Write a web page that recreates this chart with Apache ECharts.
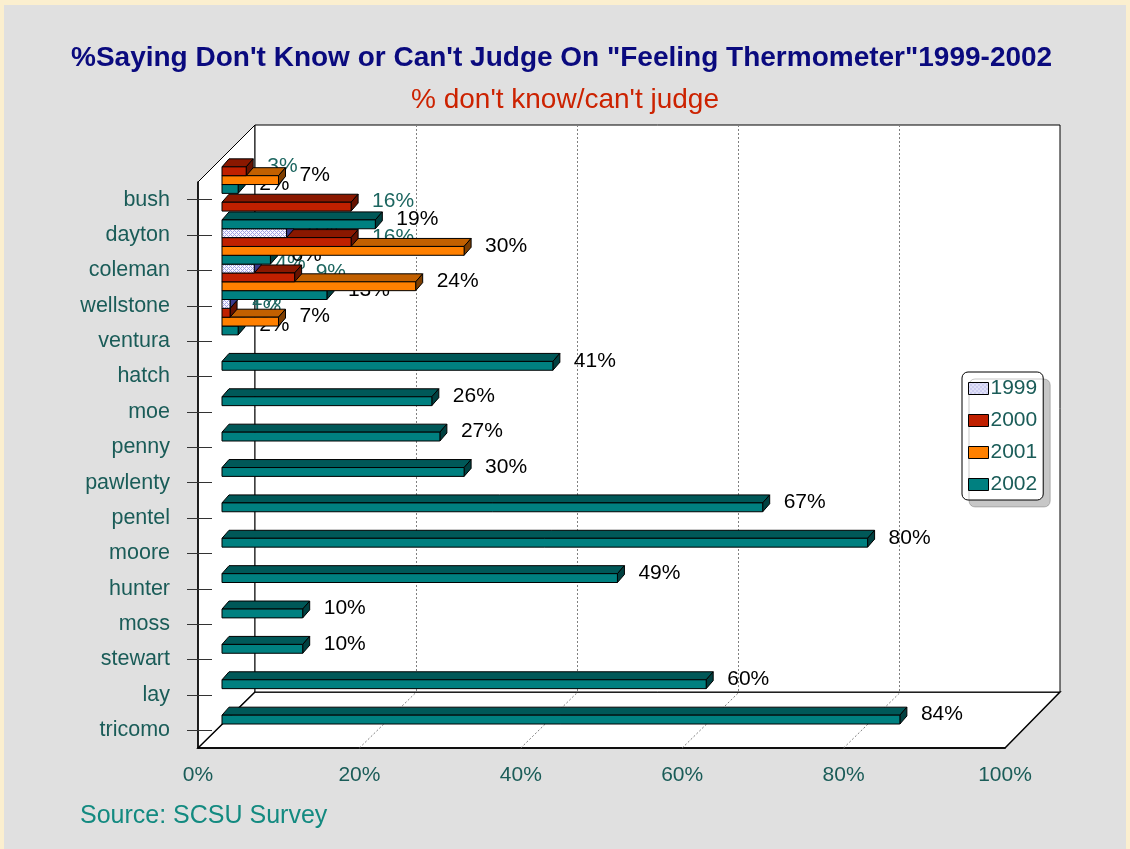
<!DOCTYPE html>
<html><head><meta charset="utf-8">
<script src="https://cdn.jsdelivr.net/npm/echarts@6/dist/echarts.min.js"></script>
<style>
html,body{margin:0;padding:0;background:#fbefcf;}
#c{width:1130px;height:849px;background:#e0e0e0;box-shadow:inset 4px 5px 0 #fbefcf, inset -4px 0 0 #fbefcf;}
</style>
</head><body><div id="c"></div>
<script>
// ---- data ----
const categories = ['bush','dayton','coleman','wellstone','ventura','hatch','moe','penny','pawlenty','pentel','moore','hunter','moss','stewart','lay','tricomo'];
const seriesNames = ['1999','2000','2001','2002'];
const v1999 = [null, null, 8, 4, 1, null, null, null, null, null, null, null, null, null, null, null];
const v2000 = [3, 16, 16, 9, 1, null, null, null, null, null, null, null, null, null, null, null];
const v2001 = [7, null, 30, 24, 7, null, null, null, null, null, null, null, null, null, null, null];
const v2002 = [2, 19, 6, 13, 2, 41, 26, 27, 30, 67, 80, 49, 10, 10, 60, 84];
const xTicks = [0, 20, 40, 60, 80, 100];

// ---- styles ----
const pc = document.createElement('canvas'); pc.width = 4; pc.height = 4;
const g = pc.getContext('2d');
g.fillStyle = '#f6f6ff'; g.fillRect(0, 0, 4, 4);
g.fillStyle = '#a4a4e4';
[[0,0],[1,1],[2,2],[3,3],[3,1],[1,3]].forEach(p => g.fillRect(p[0], p[1], 1, 1));
const pattern = { image: pc, repeat: 'repeat' };

const faceColors = [
  { front: pattern, top: '#c8c8ee', side: '#3a3a8a', label: '#1d6660' },
  { front: '#c02000', top: '#8a1800', side: '#661200', label: '#1d6660' },
  { front: '#ff8000', top: '#c26000', side: '#7e3e00', label: '#000000' },
  { front: '#008080', top: '#005858', side: '#004040', label: '#000000' }
];
const allValues = [v1999, v2000, v2001, v2002];
const DX = 7, DY = -8;      // bar thickness (3D)
const WDX = 57, WDY = -56;  // wall depth
const FF = '"Liberation Sans", Arial, sans-serif';
const labelFont = '21px ' + FF;
const tealText = '#1a5c58';

function makeRender(s) {
  const fc = faceColors[s];
  return function (params, api) {
    const v = api.value(0);
    if (v == null || isNaN(v)) return;
    const c = api.value(1);
    const base = api.coord([0, c]);
    const end = api.coord([v, c]);
    const band = api.size([0, 1])[1];
    const h = band / 4;
    const yt = base[1] - band / 2 + s * h;
    const yb = yt + h;
    const x0 = base[0], x1 = end[0];
    const r = c * 4 + s;
    const stroke = { stroke: '#000', lineWidth: 1 };
    return {
      type: 'group',
      children: [
        { type: 'text', z2: 500 - r, style: { text: v + '%', x: x1 + 21, y: yt + h / 2 - 5, fill: fc.label, font: labelFont, verticalAlign: 'middle', align: 'left' } },
        { type: 'polygon', z2: 1000 - r, shape: { points: [[x0, yt], [x1, yt], [x1 + DX, yt + DY], [x0 + DX, yt + DY]] }, style: Object.assign({ fill: fc.top }, stroke) },
        { type: 'polygon', z2: 1000 - r, shape: { points: [[x1, yt], [x1 + DX, yt + DY], [x1 + DX, yb + DY], [x1, yb]] }, style: Object.assign({ fill: fc.side }, stroke) },
        { type: 'rect', z2: 1000 - r, shape: { x: x0, y: yt, width: x1 - x0, height: h }, style: Object.assign({ fill: fc.front }, stroke) }
      ]
    };
  };
}

const chart = echarts.init(document.getElementById('c'), null, { renderer: 'canvas' });

const barSeries = seriesNames.map((name, s) => ({
  name: name,
  type: 'custom',
  xAxisIndex: 2, yAxisIndex: 3,
  z: 3,
  encode: { x: 0, y: 1 },
  itemStyle: { color: faceColors[s].front, borderColor: '#000', borderWidth: 1 },
  renderItem: makeRender(s),
  data: allValues[s].map((v, i) => [v, i])
}));

const floorLines = {
  type: 'custom',
  xAxisIndex: 0, yAxisIndex: 0,
  z: 1,
  silent: true,
  renderItem: function (params, api) {
    const p = api.coord([api.value(0), 0]);
    const bottom = params.coordSys.y + params.coordSys.height;
    return { type: 'line', shape: { x1: p[0], y1: bottom, x2: p[0] + WDX, y2: bottom + WDY }, style: { stroke: '#808080', lineWidth: 1, lineDash: [2, 2] } };
  },
  data: xTicks.slice(1, -1).map(v => [v, 0])
};

const option = {
  animation: false,
  title: [
    { text: '%Saying Don\'t Know or Can\'t Judge On "Feeling Thermometer"1999-2002', left: 66, top: 39,
      textStyle: { fontFamily: FF, fontWeight: 'bold', fontSize: 28, color: '#0a0a7e' } },
    { text: "% don't know/can't judge", left: 'center', top: 81,
      textStyle: { fontFamily: FF, fontWeight: 'normal', fontSize: 28, color: '#cc2200' } }
  ],
  legend: {
    data: seriesNames,
    orient: 'vertical', left: 962, top: 372,
    icon: 'rect', itemWidth: 20, itemHeight: 12, itemGap: 11,
    selectedMode: false,
    padding: [6, 6, 5, 6],
    backgroundColor: '#fff', borderColor: '#000', borderWidth: 1, borderRadius: 6,
    shadowColor: 'rgba(0,0,0,0.22)', shadowOffsetX: 7, shadowOffsetY: 7, shadowBlur: 0,
    itemStyle: { borderColor: '#000', borderWidth: 1 },
    textStyle: { fontFamily: FF, fontSize: 21, color: tealText, padding: [0, 0, 0, -3] }
  },
  grid: [
    { left: 198, top: 182, width: 807, height: 566 },
    { left: 255, top: 125, width: 805, height: 567, show: true, backgroundColor: '#fff', borderColor: '#000', borderWidth: 1, z: -2 },
    { left: 222, top: 158, width: 807, height: 566 }
  ],
  xAxis: [
    { gridIndex: 0, type: 'value', min: 0, max: 100, interval: 20,
      axisLine: { show: true, lineStyle: { color: '#000', width: 1.5 } },
      axisTick: { show: false }, splitLine: { show: false },
      axisLabel: { formatter: '{value}%', fontSize: 21, color: tealText, margin: 17, fontFamily: FF } },
    { gridIndex: 1, type: 'value', min: 0, max: 100, interval: 20,
      axisLine: { show: false }, axisTick: { show: false }, axisLabel: { show: false },
      splitLine: { show: true, showMinLine: false, showMaxLine: false, lineStyle: { color: '#808080', width: 1, type: [2, 2] } } },
    { gridIndex: 2, type: 'value', min: 0, max: 100, show: false }
  ],
  yAxis: [
    { gridIndex: 0, type: 'category', data: categories, inverse: true,
      axisLine: { show: true, lineStyle: { color: '#000', width: 1.5 } },
      axisTick: { show: true, alignWithLabel: true, length: 11, lineStyle: { color: '#333' } },
      splitLine: { show: false },
      axisLabel: { fontSize: 21.5, color: tealText, margin: 28, fontFamily: FF } },
    { gridIndex: 0, type: 'category', data: categories, inverse: true, position: 'left',
      axisLine: { show: false }, axisLabel: { show: false }, splitLine: { show: false },
      axisTick: { show: true, inside: true, alignWithLabel: true, length: 14, lineStyle: { color: '#333' } } },
    { gridIndex: 1, type: 'value', show: false, splitLine: { show: false } },
    { gridIndex: 2, type: 'category', data: categories, inverse: true, show: false }
  ],
  graphic: [
    { type: 'polygon', z: -3, shape: { points: [[198, 182], [255, 125], [255, 692], [198, 748]] }, style: { fill: '#fff', stroke: '#000', lineWidth: 1 } },
    { type: 'polygon', z: -3, shape: { points: [[198, 748], [255, 692], [1060, 692], [1005, 748]] }, style: { fill: '#fff', stroke: '#000', lineWidth: 1.5 } },
    { type: 'text', left: 80, top: 804, style: { text: 'Source: SCSU Survey', font: '25px ' + FF, fill: '#138a80' } }
  ],
  series: [floorLines].concat(barSeries)
};
chart.setOption(option);
</script>
</body></html>
